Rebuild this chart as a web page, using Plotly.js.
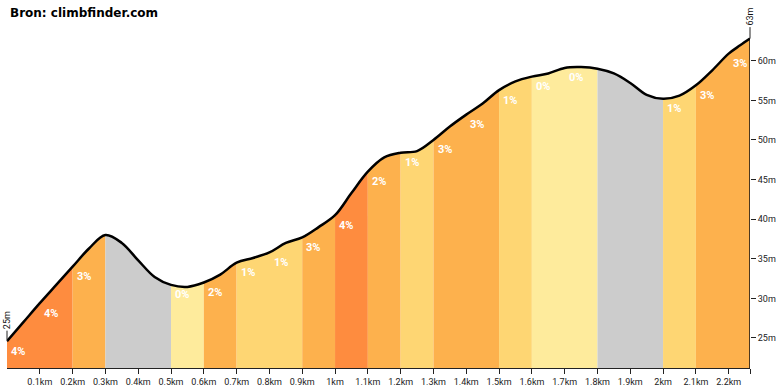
<!DOCTYPE html>
<html>
<head>
<meta charset="utf-8">
<script src="https://cdn.plot.ly/plotly-3.0.1.min.js"></script>
<style>html,body{margin:0;padding:0;background:#fff;}#chart{width:780px;height:390px;}</style>
</head>
<body>
<div id="chart"></div>
<script>
// Profile points (distance km, elevation m)
const distance = [0,0.05,0.1,0.15,0.2,0.25,0.3,0.35,0.4,0.45,0.5,0.55,0.6,0.65,0.7,0.75,0.8,0.85,0.9,0.95,1.0,1.05,1.1,1.15,1.2,1.25,1.3,1.35,1.4,1.45,1.5,1.55,1.6,1.65,1.7,1.75,1.8,1.85,1.9,1.95,2.0,2.05,2.1,2.15,2.2,2.235,2.265];
const elevation = [24.6,27.0,29.4,31.7,34.0,36.3,38.0,37.0,34.8,32.7,31.7,31.45,32.0,33.0,34.5,35.1,35.8,37.0,37.7,39.0,40.5,43.3,46.0,47.8,48.4,48.6,50.0,51.7,53.2,54.6,56.3,57.4,58.0,58.4,59.1,59.2,59.0,58.4,57.2,55.7,55.2,55.6,56.9,58.8,60.9,61.95,62.8];

// Segments (every 0.1 km) and their grade labels
const segStart = [0,0.1,0.2,0.3,0.4,0.5,0.6,0.7,0.8,0.9,1.0,1.1,1.2,1.3,1.4,1.5,1.6,1.7,1.8,1.9,2.0,2.1,2.2];
const segEnd   = [0.1,0.2,0.3,0.4,0.5,0.6,0.7,0.8,0.9,1.0,1.1,1.2,1.3,1.4,1.5,1.6,1.7,1.8,1.9,2.0,2.1,2.2,2.265];
const segGrade = [4,4,3,-4,-3,0,2,1,1,3,4,2,1,3,3,1,0,0,-1,-3,1,3,3];

const xTickVals = [0.1,0.2,0.3,0.4,0.5,0.6,0.7,0.8,0.9,1.0,1.1,1.2,1.3,1.4,1.5,1.6,1.7,1.8,1.9,2.0,2.1,2.2,2.265];
const xTickText = ["0.1km","0.2km","0.3km","0.4km","0.5km","0.6km","0.7km","0.8km","0.9km","1km","1.1km","1.2km","1.3km","1.4km","1.5km","1.6km","1.7km","1.8km","1.9km","2km","2.1km","2.2km",""];
const yTickVals = [25,30,35,40,45,50,55,60];
const yTickText = ["25m","30m","35m","40m","45m","50m","55m","60m"];

function gradeColor(g){
  if (g < 0) return "#cccccc";
  if (g === 0) return "#feeb9c";
  if (g === 1) return "#fed673";
  if (g <= 3) return "#fdb14d";
  return "#fe8c3f";
}

const yMin = 21.21, yMax = 65.15;
const traces = [];
const annotations = [];

// group consecutive segments of the same colour into one filled area
let i = 0;
while (i < segStart.length) {
  const c = gradeColor(segGrade[i]);
  let k = i;
  while (k + 1 < segStart.length && gradeColor(segGrade[k + 1]) === c) k++;
  const a = segStart[i], b = segEnd[k];
  const xs = [], ys = [];
  for (let j = 0; j < distance.length; j++) {
    if (distance[j] >= a - 1e-9 && distance[j] <= b + 1e-9) { xs.push(distance[j]); ys.push(elevation[j]); }
  }
  traces.push({x: xs, y: ys, type: "scatter", mode: "lines", fill: "tozeroy", fillcolor: c,
    line: {color: c, width: 0.8, shape: "spline"}, hoverinfo: "skip", showlegend: false});
  i = k + 1;
}

for (let s = 0; s < segStart.length; s++) {
  if (segGrade[s] < 0) continue;
  const j = distance.findIndex(d => Math.abs(d - segStart[s]) < 1e-9);
  annotations.push({x: segStart[s] + 0.034, y: elevation[j], xref: "x", yref: "y", yshift: -10,
    text: segGrade[s] + "%", showarrow: false, font: {family: "Roboto, sans-serif", size: 11, color: "#ffffff", weight: 700}});
}

// Right edge line
const xEnd = distance[distance.length - 1], eEnd = elevation[elevation.length - 1];
traces.push({x: [xEnd, xEnd], y: [yMin, eEnd], type: "scatter", mode: "lines", line: {color: "#111", width: 1.5}, hoverinfo: "skip", showlegend: false});
// Profile line
traces.push({x: distance, y: elevation, type: "scatter", mode: "lines",
  line: {color: "#000", width: 2.5, shape: "spline"}, hoverinfo: "skip", showlegend: false});

annotations.push({x: distance[0], y: elevation[0], xref: "x", yref: "y", text: Math.round(elevation[0]) + "m", textangle: -90,
  showarrow: true, arrowhead: 0, arrowwidth: 1, arrowcolor: "#222", ax: 0, ay: -21, standoff: 0,
  font: {family: "Roboto, sans-serif", size: 9, color: "#111"}});
annotations.push({x: xEnd, y: eEnd, xref: "x", yref: "y", text: Math.round(eEnd) + "m", textangle: -90,
  showarrow: true, arrowhead: 0, arrowwidth: 1, arrowcolor: "#222", ax: 0, ay: -22, standoff: 0,
  font: {family: "Roboto, sans-serif", size: 9, color: "#111"}});

const layout = {
  width: 780, height: 390,
  margin: {l: 7, r: 30, t: 20, b: 22},
  paper_bgcolor: "#fff", plot_bgcolor: "#fff",
  title: {text: "<b>Bron: climbfinder.com</b>", x: 10/780, xref: "container", xanchor: "left",
    y: 1 - 13/390, yref: "container", yanchor: "middle",
    font: {family: "DejaVu Sans, Verdana, sans-serif", size: 12, color: "#000"}},
  xaxis: {range: [0, xEnd], tickvals: xTickVals, ticktext: xTickText, ticks: "outside", ticklen: 5, tickcolor: "#222",
    showline: true, linecolor: "#222", linewidth: 1, showgrid: false, zeroline: false,
    tickfont: {family: "Roboto, sans-serif", size: 9, color: "#222"}, fixedrange: true},
  yaxis: {range: [yMin, yMax], side: "right", tickvals: yTickVals, ticktext: yTickText, ticks: "outside", ticklen: 5, tickcolor: "#222",
    showline: false, showgrid: false, zeroline: false,
    tickfont: {family: "Roboto, sans-serif", size: 9, color: "#222"}, fixedrange: true},
  annotations: annotations,
  showlegend: false
};
Plotly.newPlot("chart", traces, layout, {displayModeBar: false, staticPlot: true});
</script>
</body>
</html>
